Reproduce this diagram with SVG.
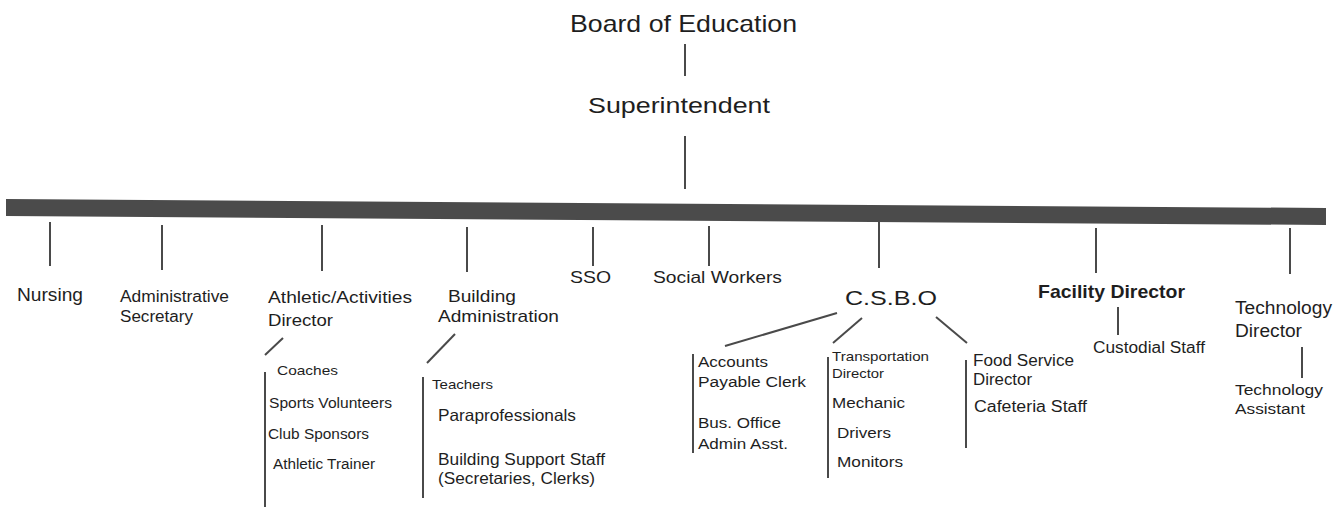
<svg xmlns="http://www.w3.org/2000/svg" width="1341" height="508" viewBox="0 0 1341 508">
<style>
text{font-family:"Liberation Sans",Arial,sans-serif;fill:#1e1e1e;}
.c line{stroke:#4a4a4a;stroke-width:2;}
.bar{fill:#4b4b4b;}
</style>
<rect width="1341" height="508" fill="#fff"/>
<g id="connectors" class="c">
<polygon class="bar" points="6,199 1326,208 1326,225 6,216"/>
<line x1="685" y1="44" x2="685" y2="76"/>
<line x1="685" y1="136" x2="685" y2="189"/>
<line x1="50" y1="222" x2="50" y2="266"/>
<line x1="162" y1="225" x2="162" y2="270"/>
<line x1="322" y1="225" x2="322" y2="271"/>
<line x1="467" y1="227" x2="467" y2="272"/>
<line x1="593" y1="227" x2="593" y2="266"/>
<line x1="709" y1="226" x2="709" y2="266"/>
<line x1="879" y1="222" x2="879" y2="268"/>
<line x1="1096" y1="228" x2="1096" y2="273"/>
<line x1="1290" y1="228" x2="1290" y2="274"/>
<line x1="283" y1="338" x2="265" y2="355"/>
<line x1="265" y1="372" x2="265" y2="507"/>
<line x1="455" y1="334" x2="427" y2="363"/>
<line x1="423" y1="377" x2="423" y2="498"/>
<line x1="837" y1="313" x2="725" y2="346"/>
<line x1="862" y1="318" x2="833" y2="343"/>
<line x1="936" y1="317" x2="967" y2="343"/>
<line x1="693" y1="354" x2="693" y2="453"/>
<line x1="828" y1="357" x2="828" y2="478"/>
<line x1="966" y1="360" x2="966" y2="448"/>
<line x1="1118" y1="307" x2="1118" y2="335"/>
<line x1="1302" y1="347" x2="1302" y2="378"/>
</g>
<g id="board"><text x="570" y="32" font-size="24" textLength="227" lengthAdjust="spacingAndGlyphs">Board of Education</text></g>
<g id="superintendent"><text x="588" y="113" font-size="22" textLength="182" lengthAdjust="spacingAndGlyphs">Superintendent</text></g>
<g id="nursing"><text x="17" y="301" font-size="18.5" textLength="66" lengthAdjust="spacingAndGlyphs">Nursing</text></g>
<g id="admin-secretary">
<text x="120" y="302" font-size="16" textLength="109" lengthAdjust="spacingAndGlyphs">Administrative</text>
<text x="120" y="322" font-size="16" textLength="73" lengthAdjust="spacingAndGlyphs">Secretary</text>
</g>
<g id="athletic">
<text x="268" y="303" font-size="17" textLength="144" lengthAdjust="spacingAndGlyphs">Athletic/Activities</text>
<text x="268" y="326" font-size="17" textLength="65" lengthAdjust="spacingAndGlyphs">Director</text>
</g>
<g id="athletic-staff">
<text x="277" y="375" font-size="13.5" textLength="61" lengthAdjust="spacingAndGlyphs">Coaches</text>
<text x="269" y="408" font-size="14" textLength="123" lengthAdjust="spacingAndGlyphs">Sports Volunteers</text>
<text x="268" y="439" font-size="14" textLength="101" lengthAdjust="spacingAndGlyphs">Club Sponsors</text>
<text x="273" y="469" font-size="14" textLength="102" lengthAdjust="spacingAndGlyphs">Athletic Trainer</text>
</g>
<g id="building">
<text x="448" y="302" font-size="17" textLength="68" lengthAdjust="spacingAndGlyphs">Building</text>
<text x="438" y="322" font-size="17" textLength="121" lengthAdjust="spacingAndGlyphs">Administration</text>
</g>
<g id="building-staff">
<text x="432" y="389" font-size="13.5" textLength="61" lengthAdjust="spacingAndGlyphs">Teachers</text>
<text x="438" y="421" font-size="16.5" textLength="138" lengthAdjust="spacingAndGlyphs">Paraprofessionals</text>
<text x="438" y="465" font-size="16.5" textLength="167" lengthAdjust="spacingAndGlyphs">Building Support Staff</text>
<text x="438" y="484" font-size="16.5" textLength="157" lengthAdjust="spacingAndGlyphs">(Secretaries, Clerks)</text>
</g>
<g id="sso"><text x="570" y="283" font-size="16.5" textLength="41" lengthAdjust="spacingAndGlyphs">SSO</text></g>
<g id="social-workers"><text x="653" y="283" font-size="16.5" textLength="129" lengthAdjust="spacingAndGlyphs">Social Workers</text></g>
<g id="csbo"><text x="845" y="305" font-size="21" textLength="92" lengthAdjust="spacingAndGlyphs">C.S.B.O</text></g>
<g id="accounts">
<text x="698" y="367" font-size="15.5" textLength="70" lengthAdjust="spacingAndGlyphs">Accounts</text>
<text x="698" y="387" font-size="15.5" textLength="108" lengthAdjust="spacingAndGlyphs">Payable Clerk</text>
<text x="698" y="428" font-size="15.5" textLength="83" lengthAdjust="spacingAndGlyphs">Bus. Office</text>
<text x="698" y="449" font-size="15.5" textLength="90" lengthAdjust="spacingAndGlyphs">Admin Asst.</text>
</g>
<g id="transportation">
<text x="832" y="361" font-size="13.5" textLength="97" lengthAdjust="spacingAndGlyphs">Transportation</text>
<text x="832" y="378" font-size="13.5" textLength="52" lengthAdjust="spacingAndGlyphs">Director</text>
<text x="832" y="408" font-size="15.5" textLength="73" lengthAdjust="spacingAndGlyphs">Mechanic</text>
<text x="837" y="438" font-size="15.5" textLength="54" lengthAdjust="spacingAndGlyphs">Drivers</text>
<text x="837" y="467" font-size="15.5" textLength="66" lengthAdjust="spacingAndGlyphs">Monitors</text>
</g>
<g id="food-service">
<text x="973" y="366" font-size="16" textLength="101" lengthAdjust="spacingAndGlyphs">Food Service</text>
<text x="973" y="385" font-size="16" textLength="59" lengthAdjust="spacingAndGlyphs">Director</text>
<text x="974" y="412" font-size="16" textLength="113" lengthAdjust="spacingAndGlyphs">Cafeteria Staff</text>
</g>
<g id="facility">
<text x="1038" y="298" font-size="19" font-weight="bold" textLength="147" lengthAdjust="spacingAndGlyphs">Facility Director</text>
</g>
<g id="custodial"><text x="1093" y="353" font-size="16" textLength="112" lengthAdjust="spacingAndGlyphs">Custodial Staff</text></g>
<g id="technology-director">
<text x="1235" y="314" font-size="17.5" textLength="97" lengthAdjust="spacingAndGlyphs">Technology</text>
<text x="1235" y="337" font-size="17.5" textLength="67" lengthAdjust="spacingAndGlyphs">Director</text>
</g>
<g id="technology-assistant">
<text x="1235" y="395" font-size="15.5" textLength="88" lengthAdjust="spacingAndGlyphs">Technology</text>
<text x="1235" y="414" font-size="15.5" textLength="70" lengthAdjust="spacingAndGlyphs">Assistant</text>
</g>
</svg>
